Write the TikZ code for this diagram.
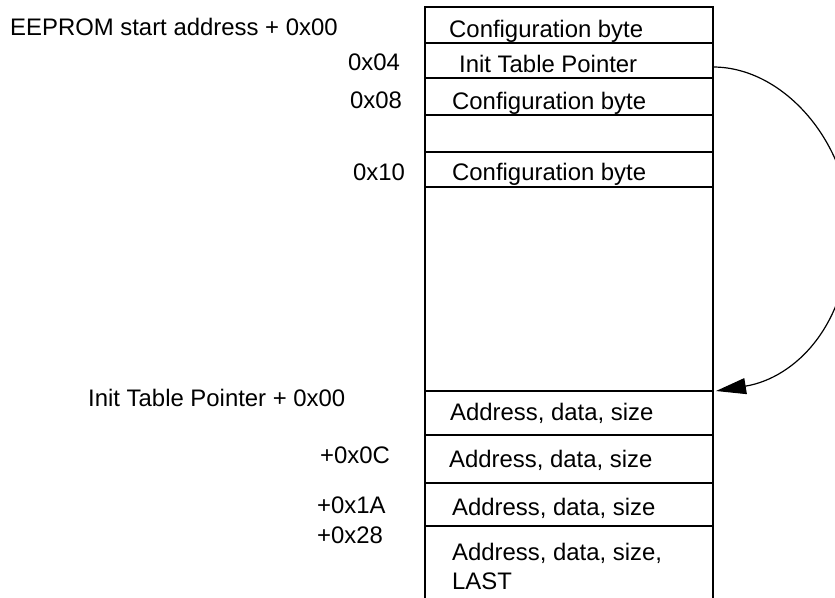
\documentclass[tikz,border=0pt]{standalone}
\usepackage{fontspec}
\setmainfont{Liberation Sans}
\usetikzlibrary{arrows.meta}
\begin{document}
\begin{tikzpicture}[x=1pt,y=-1pt,
  cell/.style={draw, line width=1.6pt, minimum width=288pt, inner sep=0pt, outer sep=0pt},
  lbl/.style={inner sep=0pt, font=\fontsize{23.9}{28}\selectfont},
  lbw/.style={lbl, anchor=base west},
  ptr/.style={line width=1.2pt, -{Triangle[length=30pt,width=16pt]}}]
\useasboundingbox (0,0) rectangle (835,597);
% cells
\node[cell, minimum height=36pt]  (c1)  at (569,25)    {};
\node[cell, minimum height=35pt]  (c2)  at (569,60.5)  {};
\node[cell, minimum height=37pt]  (c3)  at (569,96.5)  {};
\node[cell, minimum height=37pt]  (c4)  at (569,133.5) {};
\node[cell, minimum height=35pt]  (c5)  at (569,169.5) {};
\node[cell, minimum height=204pt] (c6)  at (569,289)   {};
\node[cell, minimum height=44pt]  (c7)  at (569,413)   {};
\node[cell, minimum height=48pt]  (c8)  at (569,459)   {};
\node[cell, minimum height=43pt]  (c9)  at (569,504.5) {};
\node[cell, minimum height=100pt] (c10) at (569,576)   {};
% cell texts
\node[lbw] (t1) at (449,37)  {Configuration byte};
\node[lbw] (t2) at (459,72)  {Init Table Pointer};
\node[lbw] (t3) at (452,109) {Configuration byte};
\node[lbw] (t5) at (452,180) {Configuration byte};
\node[lbw] (t7) at (450,420) {Address, data, size};
\node[lbw] (t8) at (449,467) {Address, data, size};
\node[lbw] (t9) at (452,515) {Address, data, size};
\node[lbw] (t10) at (452,560) {Address, data, size,};
\node[lbw] (t11) at (452,589) {LAST};
% address labels
\node[lbw] (a0) at (10,35)   {EEPROM start address + 0x00};
\node[lbw] (a1) at (348,70)  {0x04};
\node[lbw] (a2) at (350,108) {0x08};
\node[lbw] (a3) at (353,180) {0x10};
\node[lbw] (b0) at (88,406)  {Init Table Pointer + 0x00};
\node[lbw] (b1) at (320,463) {+0x0C};
\node[lbw] (b2) at (317,513) {+0x1A};
\node[lbw] (b3) at (317,543) {+0x28};
% pointer arrow
\draw[ptr] ([yshift=-6.5pt]c2.east) .. controls +(72,0) and (850,145) .. (850,228)
  .. controls (850,325) and (795,378) .. ([xshift=3pt]c7.north east);
\end{tikzpicture}
\end{document}
